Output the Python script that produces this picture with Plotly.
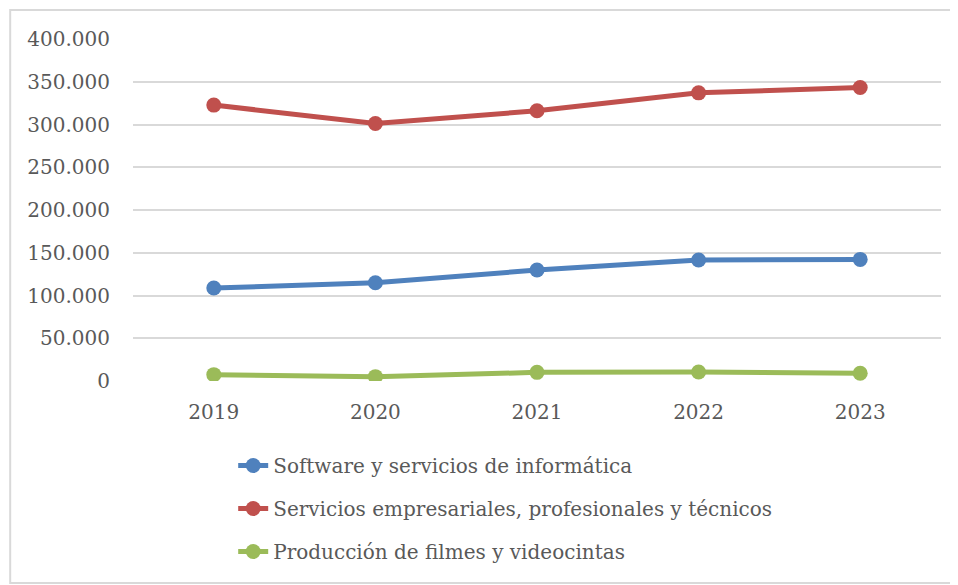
import plotly.graph_objects as go

years = ['2019', '2020', '2021', '2022', '2023']
software = [108700, 115000, 129800, 141500, 142200]
servicios = [322700, 301200, 316000, 337000, 343300]
filmes = [7400, 5100, 10100, 10500, 9000]

series_names = ['Software y servicios de informática',
                'Servicios empresariales, profesionales y técnicos',
                'Producción de filmes y videocintas']
series_colors = ['#4F81BD', '#C0504D', '#9BBB59']
y_ticks = [0, 50000, 100000, 150000, 200000, 250000, 300000, 350000, 400000]

FONT = 'DejaVu Serif'
TEXT = '#595959'

fig = go.Figure()
for name, values, color in zip(series_names, [software, servicios, filmes], series_colors):
    fig.add_trace(go.Scatter(x=years, y=values, name=name, mode='lines+markers',
                             legendgroup=name,
                             line=dict(color=color, width=5),
                             marker=dict(color=color, size=15)))

# light border round the chart area (its right edge is cut off in the original)
fig.add_shape(type='rect', xref='paper', yref='paper',
              x0=-0.152, x1=1.3, y0=-0.5906, y1=1.0848,
              line=dict(color='#D9D9D9', width=2), layer='below')

# the page body has an 8px margin, so the figure is 8px smaller than the window
fig.update_layout(
    width=950, height=577,
    margin=dict(l=125, r=17, t=31, b=204),
    plot_bgcolor='white', paper_bgcolor='white',
    separators=',.',
    font=dict(family=FONT, size=20, color=TEXT),
    showlegend=True,
    legend=dict(orientation='v', x=0.124, xanchor='left', y=-0.19, yanchor='top',
                tracegroupgap=14, font=dict(family=FONT, size=20, color=TEXT),
                bgcolor='rgba(0,0,0,0)'),
    xaxis=dict(type='category', range=[-0.5, 4.5], showgrid=False, showline=False,
               zeroline=False, ticks='', ticklabelstandoff=17, tickfont=dict(size=20)),
    yaxis=dict(range=[0, 400000], tickvals=y_ticks, tickformat=',d',
               showgrid=True, gridcolor='#D9D9D9', gridwidth=2,
               zeroline=False, showline=False, ticks='', ticklabelstandoff=22,
               tickfont=dict(size=20)),
)

fig.write_html('out.html')
